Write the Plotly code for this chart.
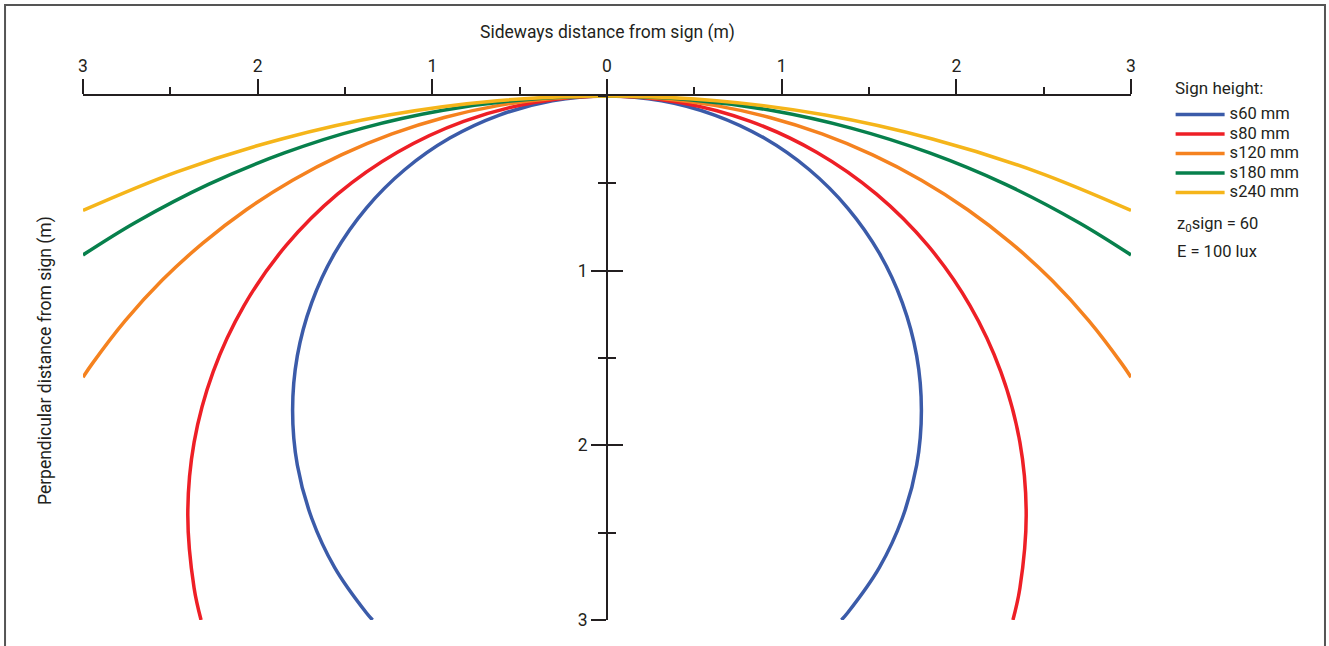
import plotly.graph_objects as go

# Iso-illuminance boundaries around a sign, one per sign height.
# Each list holds the right half of a boundary: sideways offset (m) and
# perpendicular distance (m); the left half is its mirror image.
series_names = ["s60 mm", "s80 mm", "s120 mm", "s180 mm", "s240 mm"]
series_colors = ["#3b5ba9", "#ee1f26", "#f5821f", "#07804c", "#f5b51a"]

s60_side = [0, 0.313, 0.616, 0.900, 1.157, 1.379, 1.559, 1.691, 1.773, 1.800, 1.773, 1.691, 1.559, 1.379, 1.342]
s60_depth = [0, 0.027, 0.109, 0.241, 0.421, 0.643, 0.900, 1.184, 1.488, 1.800, 2.113, 2.416, 2.700, 2.957, 3.000]

s80_side = [0, 0.417, 0.821, 1.200, 1.543, 1.838, 2.078, 2.255, 2.364, 2.400, 2.364, 2.324]
s80_depth = [0, 0.037, 0.145, 0.322, 0.562, 0.857, 1.200, 1.579, 1.983, 2.400, 2.817, 3.000]

s120_side = [0, 0.314, 0.625, 0.932, 1.231, 1.521, 1.800, 2.065, 2.314, 2.546, 2.758, 2.949, 3.000]
s120_depth = [0, 0.014, 0.055, 0.123, 0.217, 0.337, 0.482, 0.651, 0.842, 1.054, 1.286, 1.535, 1.610]

s180_side = [0, 0.471, 0.938, 1.398, 1.847, 2.282, 2.700, 3.000]
s180_depth = [0, 0.021, 0.082, 0.184, 0.326, 0.506, 0.724, 0.910]

s240_side = [0, 0.628, 1.250, 1.863, 2.462, 3.000]
s240_depth = [0, 0.027, 0.109, 0.246, 0.434, 0.655]

x_tickvals = [-3, -2, -1, 0, 1, 2, 3]
x_ticktext = ["3", "2", "1", "0", "1", "2", "3"]
y_tickvals = [1, 2, 3]
y_ticktext = ["1", "2", "3"]
y_minor_vals = [0, 0.5, 1.5, 2.5]

halves = [
    (s60_side, s60_depth),
    (s80_side, s80_depth),
    (s120_side, s120_depth),
    (s180_side, s180_depth),
    (s240_side, s240_depth),
]

FONT = "Roboto"
AXIS_COLOR = "#231f20"
TEXT_SIZE = 17.5
NOTE_SIZE = 16.5

fig = go.Figure()
for name, color, (side, depth) in zip(series_names, series_colors, halves):
    xs = [-v for v in reversed(side)] + side[1:]
    ys = list(reversed(depth)) + depth[1:]
    fig.add_trace(go.Scatter(
        x=xs, y=ys, mode="lines",
        name=f'<span style="font-size:{NOTE_SIZE}px">{name}</span>',
        line=dict(color=color, width=3.5, shape="spline", smoothing=1.0),
        hoverinfo="skip",
    ))

# Empty trace so the mirrored tick axis (ticks on the other side of x = 0) is drawn
fig.add_trace(go.Scatter(x=[None], y=[None], yaxis="y2", showlegend=False,
                         hoverinfo="skip"))

fig.update_layout(
    width=1329, height=646,
    margin=dict(l=83, r=198, t=96, b=26),
    paper_bgcolor="white", plot_bgcolor="white",
    font=dict(family=FONT, size=16, color="#231f20"),
    showlegend=True,
    legend=dict(
        x=1.0378, y=0.9930, xanchor="left", yanchor="top",
        font=dict(size=12.7), itemwidth=49, tracegroupgap=0,
        bgcolor="rgba(0,0,0,0)",
    ),
    xaxis=dict(
        range=[-3, 3], side="top", anchor="y",
        showline=True, linecolor=AXIS_COLOR, linewidth=2,
        showgrid=False, zeroline=False,
        tickmode="array", tickvals=x_tickvals, ticktext=x_ticktext,
        ticks="outside", ticklen=15, tickwidth=2, tickcolor=AXIS_COLOR,
        minor=dict(dtick=0.5, tick0=0, ticks="outside", ticklen=7,
                   tickwidth=1.5, tickcolor=AXIS_COLOR, showgrid=False),
        tickfont=dict(size=TEXT_SIZE), layer="below traces",
        fixedrange=True,
    ),
    yaxis=dict(
        range=[3, 0], anchor="free", position=0.5,
        showline=True, linecolor=AXIS_COLOR, linewidth=2,
        showgrid=False, zeroline=False,
        tickmode="array", tickvals=y_tickvals, ticktext=y_ticktext,
        ticks="outside", ticklen=15, tickwidth=2, tickcolor=AXIS_COLOR,
        minor=dict(tickvals=y_minor_vals, ticks="outside", ticklen=8,
                   tickwidth=1.5, tickcolor=AXIS_COLOR, showgrid=False),
        tickfont=dict(size=TEXT_SIZE), layer="above traces",
        fixedrange=True,
    ),
    yaxis2=dict(
        range=[3, 0], anchor="free", position=0.5, overlaying="y",
        showline=False, showgrid=False, zeroline=False,
        tickmode="array", tickvals=y_tickvals, showticklabels=False,
        ticks="inside", ticklen=15, tickwidth=2, tickcolor=AXIS_COLOR,
        minor=dict(tickvals=y_minor_vals, ticks="inside", ticklen=8,
                   tickwidth=1.5, tickcolor=AXIS_COLOR, showgrid=False),
        layer="above traces", fixedrange=True,
    ),
)

fig.add_annotation(
    text="Sideways distance from sign (m)", xref="paper", yref="paper",
    x=0.5, y=1.122, xanchor="center", yanchor="middle",
    showarrow=False, font=dict(size=TEXT_SIZE),
)
fig.add_annotation(
    text="Perpendicular distance from sign (m)", xref="paper", yref="paper",
    x=-0.0363, y=0.496, xanchor="center", yanchor="middle", textangle=-90,
    showarrow=False, font=dict(size=TEXT_SIZE),
)
# Legend heading and the conditions the curves were computed for
fig.add_annotation(
    text="Sign height:", xref="paper", yref="paper",
    x=1.040, y=1.0153, xanchor="left", yanchor="middle",
    showarrow=False, font=dict(size=17),
)
fig.add_annotation(
    text="z<sub>0</sub>sign = 60", xref="paper", yref="paper",
    x=1.0420, y=0.754, xanchor="left", yanchor="middle",
    showarrow=False, font=dict(size=NOTE_SIZE),
)
fig.add_annotation(
    text="E = 100 lux", xref="paper", yref="paper",
    x=1.0420, y=0.704, xanchor="left", yanchor="middle",
    showarrow=False, font=dict(size=NOTE_SIZE),
)

# Frame around the figure
fig.add_shape(
    type="rect", xref="paper", yref="paper",
    x0=-0.0744, x1=1.1851, y0=-0.1, y1=1.1737,
    line=dict(color="#555555", width=2), fillcolor="rgba(0,0,0,0)",
    layer="below",
)

fig.write_html("out.html")
